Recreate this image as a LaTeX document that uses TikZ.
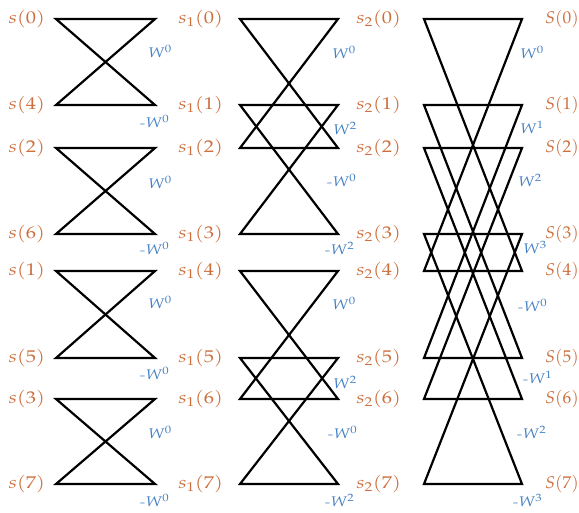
\documentclass[tikz,border=0pt]{standalone}
\usepackage{mathpazo}
\usepackage{xcolor}
\usepackage{graphicx}
\usepackage{tikz}
\usetikzlibrary{positioning}

\definecolor{sigorange}{RGB}{205,110,60}
\definecolor{twblue}{RGB}{70,130,195}
\newcommand{\widelbl}[1]{\scalebox{1.2}[1]{#1}}

\begin{document}
\begin{tikzpicture}[
      x=1pt, y=-1pt,
      wire/.style={line width=2.2pt, line join=miter},
      sig/.style={font=\fontsize{17}{20}\selectfont, text=sigorange, inner sep=0pt},
      tw/.style={font=\fontsize{14}{17}\selectfont, text=twblue, inner sep=0pt, anchor=west}
    ]
    \useasboundingbox (0,0) rectangle (579,512);

    % Righe e colonne
    \foreach \p/\yy in {0/19,1/105,2/148,3/234,4/271,5/358,6/399,7/484}
      \foreach \c/\xx in {0/56,1/155,2/240,3/338,4/424,5/522}
        \coordinate (c\c-\p) at (\xx,\yy);

    % Farfalle
    \foreach \l/\r/\pp/\qq in {0/1/0/1, 0/1/2/3, 0/1/4/5, 0/1/6/7,
                               2/3/0/2, 2/3/1/3, 2/3/4/6, 2/3/5/7,
                               4/5/0/4, 4/5/1/5, 4/5/2/6, 4/5/3/7}
      \draw[wire] (c\l-\pp) -- (c\r-\pp) -- (c\l-\qq) -- (c\r-\qq) -- cycle;

    % Ingressi e uscite
    \foreach \p/\k in {0/0,1/4,2/2,3/6,4/1,5/5,6/3,7/7}
      \node[sig, left=11pt of c0-\p] (x\p) {\widelbl{$s(\k)$}};
    \foreach \p in {0,...,7} {
      \node[sig, left=17pt of c2-\p] (ya\p) {\widelbl{$s_1(\p)$}};
      \node[sig, left=23pt of c4-\p] (yb\p) {\widelbl{$s_2(\p)$}};
      \node[sig, right=23pt of c5-\p] (out\p) {\scalebox{1.02}[1]{$S(\p)$}};
    }

    % Fattori W
    \foreach \xx/\yy/\e [count=\i] in {148/51/0, 148/182/0, 148/302/0, 148/432/0,
                                       332/52/0, 333/128/2, 332/303/0, 333/382/2,
                                       520/52/0, 520/127/1, 518/180/2, 523/247/3}
      \node[tw] (wp\i) at (\xx,\yy) {\widelbl{$W^{\e}$}};
    \foreach \xx/\yy/\e [count=\i] in {140/121/0, 140/248/0, 140/373/0, 140/500/0,
                                       327/180/0, 325/248/2, 328/432/0, 325/500/2,
                                       518/305/0, 523/377/1, 517/432/2, 513/500/3}
      \node[tw] (wm\i) at (\xx,\yy) {\widelbl{-$W^{\e}$}};
  \end{tikzpicture}
\end{document}
